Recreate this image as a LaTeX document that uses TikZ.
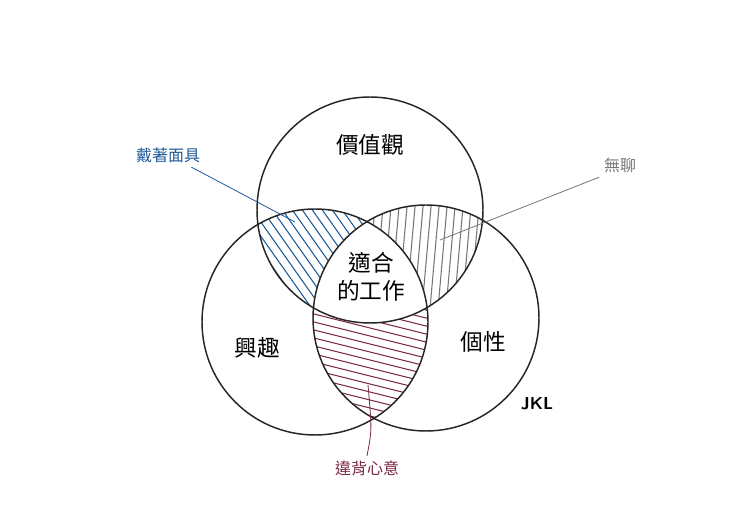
\documentclass[tikz,border=0pt]{standalone}
\usepackage{fontspec}
\newfontfamily\cjk{Noto Sans CJK TC}
\definecolor{hblue}{HTML}{1F5A9A}
\definecolor{hgray}{HTML}{777777}
\definecolor{hred}{HTML}{7A2840}
\begin{document}
\begin{tikzpicture}[x=0.75pt,y=-0.75pt,
  ring/.style={draw=black!85,line width=1.1pt},
  big/.style={font=\cjk\fontsize{17}{21}\selectfont},
  small/.style={font=\cjk\fontsize{12}{14}\selectfont},
  lead/.style={line width=0.6pt}]
\useasboundingbox[fill=white] (0,0) rectangle (740,523);
\coordinate (T) at (370,210);
\coordinate (L) at (315,322);
\coordinate (R) at (426,318);
\def\rr{113}
% blue: top & left
\begin{scope}
\clip (T) circle (\rr); \clip (L) circle (\rr);
\foreach \i in {-300,-290,...,300} \draw[hblue,line width=0.8pt] (200+\i,150) -- (320+\i,320);
\end{scope}
% gray: top & right
\begin{scope}
\clip (T) circle (\rr); \clip (R) circle (\rr);
\foreach \i in {-200,-192,...,200} \draw[hgray,line width=0.8pt] (420+\i,150) -- (405+\i,320);
\end{scope}
% red: left & right
\begin{scope}
\clip (L) circle (\rr); \clip (R) circle (\rr);
\foreach \i in {-200,-192,...,200} \draw[hred,line width=0.8pt] (290,300+\i) -- (450,340+\i);
\end{scope}
% center white
\begin{scope}
\clip (T) circle (\rr); \clip (L) circle (\rr);
\fill[white] (R) circle (\rr);
\end{scope}
\draw[ring] (T) circle (\rr);
\draw[ring] (L) circle (\rr);
\draw[ring] (R) circle (\rr);
\node[big] (v) at (370,145) {價值觀};
\node[big] (i) at (257,348) {興趣};
\node[big] (p) at (483,342) {個性};
\node[big,align=center] (c) at (371,277) {適合\\的工作};
\node[font=\sffamily\bfseries\fontsize{13}{15}\selectfont] (j) at (537,404) {JKL};
\node[small,text=hblue] (m) at (168,155) {戴著面具};
\node[small,text=hgray] (b) at (620,165) {無聊};
\node[small,text=hred] (w) at (367,468) {違背心意};
\coordinate (mb) at (295,222);
\coordinate (bb) at (440,240);
\coordinate (wb) at (368,385);
\draw[lead,hblue] ([xshift=-10pt]m.south east) -- (mb);
\draw[lead,hgray] (b.south west) -- (bb);
\draw[lead,hred] (w.north) .. controls (372,430) .. (wb);
\end{tikzpicture}
\end{document}
